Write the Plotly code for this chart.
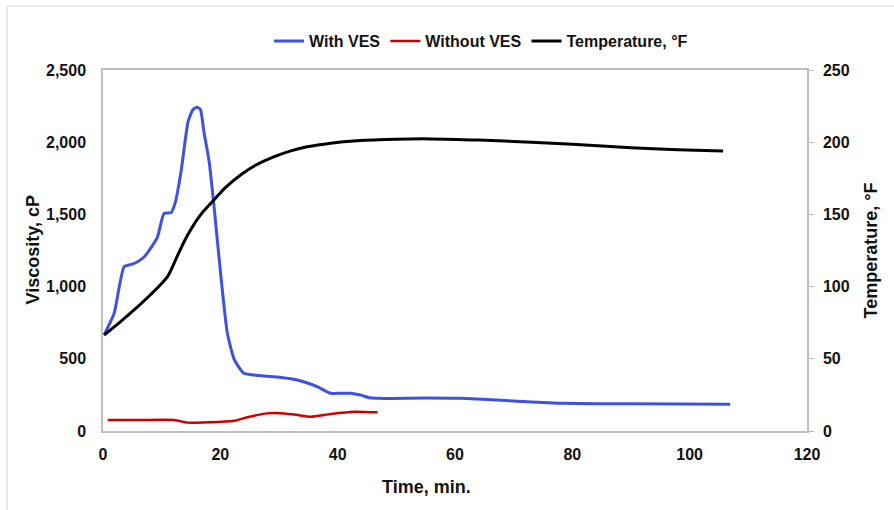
import plotly.graph_objects as go

# With VES viscosity (cP)
ves_time = [0.2, 1.9, 3.6, 5.0, 5.9, 7.0, 7.9, 9.3, 10.4, 11.6, 12.3, 13.3, 14.5, 15.3, 16.0, 16.6,
            17.2, 18.1, 18.9, 20.1, 21.2, 22.4, 24.0, 26.5, 29.1, 32.0, 34.2, 36.5, 38.8, 40.5,
            42.2, 43.9, 45.5, 47.3, 55.0, 61.0, 70.0, 78.0, 90.0, 106.9]
ves_visc = [665, 815, 1138, 1155, 1172, 1205, 1253, 1345, 1507, 1512, 1580, 1796, 2142, 2223, 2242, 2228,
            2073, 1865, 1565, 1069, 677, 492, 400, 385, 376, 362, 341, 307, 261, 262,
            261, 249, 230, 226, 228, 226, 208, 192, 188, 185]

# Without VES viscosity (cP)
novs_time = [0.8, 6.0, 12.1, 14.4, 18.0, 22.4, 24.6, 28.0, 30.9, 33.0, 35.4, 38.8, 42.8, 46.8]
novs_visc = [76, 76, 76, 58, 60, 71, 95, 122, 122, 112, 99, 118, 134, 129]

# Temperature (°F)
temp_time = [0.2, 2.5, 5.3, 8.0, 11.0, 12.7, 14.4, 16.5, 18.9, 21.0, 23.5, 26.0, 29.1, 32.0, 34.8,
             38.8, 43.3, 50.0, 56.0, 64.0, 73.0, 80.0, 90.0, 98.0, 105.7]
temp_f = [66.5, 74, 83.8, 94, 106.9, 121.5, 135.5, 149, 160, 169, 177.5, 184, 189.8, 194, 196.8,
          199.3, 201, 202.1, 202.3, 201.5, 200, 198.5, 196.2, 194.8, 193.9]

FONT = "Liberation Sans, Arial, sans-serif"
GRID = "#bfbfbf"

fig = go.Figure()
fig.add_trace(go.Scatter(x=ves_time, y=ves_visc, name="<b>With VES</b>", mode="lines",
                         line=dict(color="#3f51e0", width=3, shape="spline", smoothing=0.5)))
fig.add_trace(go.Scatter(x=novs_time, y=novs_visc, name="<b>Without VES</b>", mode="lines",
                         line=dict(color="#cc0000", width=2.5, shape="spline", smoothing=0.6)))
fig.add_trace(go.Scatter(x=temp_time, y=temp_f, name="<b>Temperature, °F</b>", mode="lines",
                         yaxis="y2",
                         line=dict(color="#000000", width=3, shape="spline", smoothing=0.8)))

fig.update_layout(
    width=894, height=510,
    margin=dict(l=103, r=87, t=70, b=79),
    paper_bgcolor="white", plot_bgcolor="white",
    font=dict(family=FONT, size=16, color="#111111"),
    showlegend=True,
    legend=dict(orientation="h", x=0.537, xanchor="center", y=1.08, yanchor="middle",
                font=dict(family=FONT, size=16, color="#111111"),
                itemwidth=30, tracegroupgap=0, bgcolor="rgba(0,0,0,0)"),
    xaxis=dict(range=[0, 120], dtick=20, tick0=0, showgrid=False, zeroline=False,
               showline=True, linecolor=GRID, linewidth=1.5, mirror=True,
               ticks="", ticklabelstandoff=8,
               tickfont=dict(family=FONT, size=16, color="#111111", weight="bold")),
    yaxis=dict(range=[0, 2500], dtick=500, tickformat=",d", showgrid=False, zeroline=False,
               showline=True, linecolor=GRID, linewidth=1.5, mirror=True,
               ticks="", ticklabelstandoff=12,
               tickfont=dict(family=FONT, size=16, color="#111111", weight="bold")),
    yaxis2=dict(range=[0, 250], dtick=50, overlaying="y", side="right", showgrid=False,
                zeroline=False, showline=True, linecolor=GRID, linewidth=1.5,
                ticks="outside", ticklen=5, tickcolor=GRID, ticklabelstandoff=6,
                tickfont=dict(family=FONT, size=16, color="#111111", weight="bold")),
    annotations=[
        dict(text="<b>Time, min.</b>", xref="paper", yref="paper", x=(426 - 103) / 704, y=-56 / 361,
             xanchor="center", yanchor="middle", showarrow=False,
             font=dict(family=FONT, size=18, color="#111111")),
        dict(text="<b>Viscosity, cP</b>", xref="paper", yref="paper", x=-71 / 704, y=0.5,
             xanchor="center", yanchor="middle", showarrow=False, textangle=-90,
             font=dict(family=FONT, size=18, color="#111111")),
        dict(text="<b>Temperature, °F</b>", xref="paper", yref="paper", x=(870 - 103) / 704, y=0.5,
             xanchor="center", yanchor="middle", showarrow=False, textangle=-90,
             font=dict(family=FONT, size=18, color="#111111")),
    ],
    shapes=[
        dict(type="line", xref="paper", yref="paper", x0=(7 - 103) / 704, x1=(894 - 103) / 704,
             y0=(431 - 6) / 361, y1=(431 - 6) / 361, line=dict(color="#e3e3e3", width=1.5)),
        dict(type="line", xref="paper", yref="paper", x0=(7 - 103) / 704, x1=(7 - 103) / 704,
             y0=(431 - 6) / 361, y1=(431 - 510) / 361, line=dict(color="#e3e3e3", width=1.5)),
    ],
)

fig.write_html("out.html")
